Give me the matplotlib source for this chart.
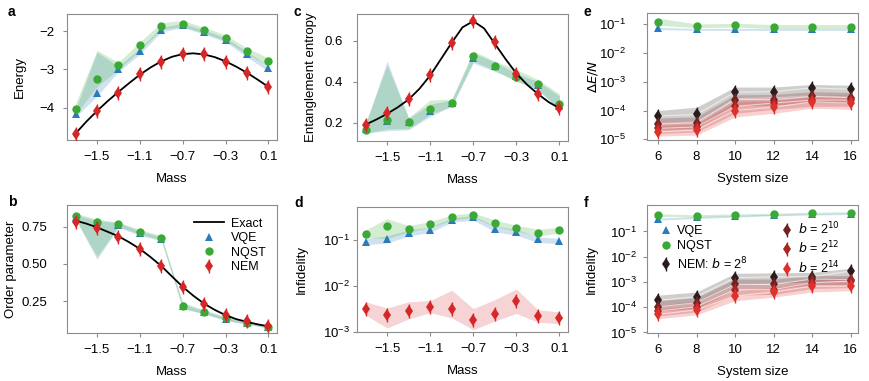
import numpy as np
import matplotlib.pyplot as plt
from matplotlib.ticker import NullLocator
from matplotlib.lines import Line2D

plt.rcParams['font.family'] = ['Liberation Sans', 'DejaVu Sans']
plt.rcParams['font.size'] = 9

# ---- data ----
mass = [-1.7, -1.5, -1.3, -1.1, -0.9, -0.7, -0.5, -0.3, -0.1, 0.1]
mass_fine = [-1.7, -1.6, -1.5, -1.4, -1.3, -1.2, -1.1, -1.0, -0.9, -0.8,
             -0.7, -0.6, -0.5, -0.4, -0.3, -0.2, -0.1, 0.0, 0.1]
sizes = [6, 8, 10, 12, 14, 16]

# a: energy
en_exact = [-4.68, -4.37, -4.09, -3.83, -3.59, -3.36, -3.14, -2.95, -2.79, -2.67,
            -2.60, -2.58, -2.61, -2.68, -2.79, -2.93, -3.09, -3.27, -3.46]
en_vqe = [-4.17, -3.61, -3.00, -2.52, -1.96, -1.84, -2.02, -2.22, -2.60, -2.97]
en_vqe_lo = [-4.25, -3.70, -3.06, -2.60, -2.02, -1.90, -2.08, -2.28, -2.68, -3.05]
en_vqe_hi = [-4.05, -2.55, -2.92, -2.45, -1.90, -1.80, -1.97, -2.17, -2.54, -2.90]
en_nqst = [-4.04, -3.26, -2.89, -2.35, -1.87, -1.80, -1.97, -2.17, -2.51, -2.77]
en_nqst_lo = [-4.18, -3.45, -3.00, -2.50, -1.95, -1.88, -2.05, -2.25, -2.60, -2.90]
en_nqst_hi = [-3.90, -2.50, -2.82, -2.28, -1.78, -1.72, -1.90, -2.10, -2.44, -2.70]
en_nem = [-4.69, -4.10, -3.61, -3.13, -2.80, -2.60, -2.61, -2.80, -3.09, -3.47]

# b: order parameter
op_exact = [0.79, 0.77, 0.745, 0.715, 0.685, 0.645, 0.60, 0.545, 0.485, 0.415,
            0.345, 0.285, 0.232, 0.19, 0.155, 0.128, 0.11, 0.093, 0.08]
op_vqe = [0.815, 0.78, 0.76, 0.705, 0.668, 0.215, 0.175, 0.13, 0.10, 0.075]
op_vqe_lo = [0.80, 0.53, 0.745, 0.69, 0.655, 0.20, 0.163, 0.12, 0.092, 0.068]
op_vqe_hi = [0.83, 0.79, 0.775, 0.72, 0.68, 0.23, 0.185, 0.14, 0.107, 0.082]
op_nqst = [0.822, 0.784, 0.766, 0.716, 0.672, 0.219, 0.178, 0.133, 0.104, 0.077]
op_nqst_lo = [0.80, 0.55, 0.75, 0.70, 0.66, 0.20, 0.165, 0.12, 0.095, 0.07]
op_nqst_hi = [0.84, 0.80, 0.78, 0.73, 0.69, 0.24, 0.19, 0.145, 0.112, 0.085]
op_nem = [0.784, 0.739, 0.683, 0.60, 0.482, 0.343, 0.231, 0.157, 0.118, 0.082]

# c: entanglement entropy
ee_exact = [0.19, 0.215, 0.243, 0.275, 0.313, 0.365, 0.43, 0.51, 0.59, 0.665,
            0.695, 0.66, 0.585, 0.51, 0.44, 0.385, 0.34, 0.30, 0.27]
ee_vqe = [0.17, 0.21, 0.205, 0.258, 0.297, 0.515, 0.475, 0.425, 0.385, 0.28]
ee_vqe_lo = [0.15, 0.16, 0.165, 0.23, 0.28, 0.49, 0.45, 0.405, 0.36, 0.26]
ee_vqe_hi = [0.19, 0.50, 0.22, 0.29, 0.31, 0.54, 0.495, 0.44, 0.40, 0.33]
ee_nqst = [0.165, 0.213, 0.205, 0.268, 0.297, 0.523, 0.477, 0.423, 0.389, 0.289]
ee_nqst_lo = [0.145, 0.17, 0.17, 0.24, 0.28, 0.50, 0.455, 0.40, 0.365, 0.265]
ee_nqst_hi = [0.20, 0.48, 0.225, 0.31, 0.315, 0.55, 0.50, 0.46, 0.41, 0.34]
ee_nem = [0.187, 0.245, 0.313, 0.434, 0.590, 0.697, 0.592, 0.439, 0.340, 0.272]

# d: infidelity vs mass
inf_vqe = [0.093, 0.105, 0.148, 0.17, 0.283, 0.318, 0.18, 0.153, 0.105, 0.097]
inf_vqe_lo = [0.08, 0.088, 0.125, 0.15, 0.25, 0.28, 0.155, 0.13, 0.09, 0.085]
inf_vqe_hi = [0.11, 0.125, 0.17, 0.195, 0.31, 0.35, 0.205, 0.175, 0.12, 0.11]
inf_nqst = [0.141, 0.208, 0.18, 0.227, 0.318, 0.36, 0.239, 0.185, 0.148, 0.17]
inf_nqst_lo = [0.115, 0.11, 0.155, 0.19, 0.28, 0.32, 0.2, 0.16, 0.125, 0.145]
inf_nqst_hi = [0.17, 0.30, 0.21, 0.26, 0.36, 0.40, 0.28, 0.215, 0.175, 0.195]
inf_nem = [3.19e-3, 2.27e-3, 2.78e-3, 3.47e-3, 3.19e-3, 1.76e-3, 2.47e-3, 4.72e-3, 2.15e-3, 2.0e-3]
inf_nem_lo = [2.3e-3, 1.2e-3, 1.9e-3, 2.6e-3, 2.0e-3, 1.1e-3, 1.7e-3, 2.5e-3, 1.6e-3, 1.5e-3]
inf_nem_hi = [4.5e-3, 3.3e-3, 4.5e-3, 4.8e-3, 8.1e-3, 3.2e-3, 5.0e-3, 8.6e-3, 3.0e-3, 2.7e-3]

# e: energy error per site vs system size
de_vqe = [0.07, 0.065, 0.065, 0.065, 0.065, 0.065]
de_vqe_lo = [0.064, 0.06, 0.06, 0.06, 0.06, 0.06]
de_vqe_hi = [0.076, 0.07, 0.07, 0.07, 0.07, 0.07]
de_nqst = [0.115, 0.085, 0.09, 0.08, 0.08, 0.08]
de_nqst_lo = [0.09, 0.075, 0.078, 0.07, 0.07, 0.07]
de_nqst_hi = [0.16, 0.1, 0.105, 0.095, 0.095, 0.095]
de_nem = [[6.4e-5, 7.3e-5, 4.3e-4, 4.5e-4, 6.1e-4, 5.4e-4],
          [3.4e-5, 3.8e-5, 2.4e-4, 2.4e-4, 3.1e-4, 2.8e-4],
          [2.4e-5, 2.7e-5, 1.4e-4, 1.8e-4, 2.3e-4, 2.3e-4],
          [1.8e-5, 2.1e-5, 1.0e-4, 1.3e-4, 2.0e-4, 1.8e-4]]
de_nem_lo = [[4.0e-5, 4.5e-5, 2.8e-4, 3.0e-4, 3.5e-4, 3.2e-4],
             [2.2e-5, 2.4e-5, 1.5e-4, 1.5e-4, 2.0e-4, 1.8e-4],
             [1.6e-5, 1.8e-5, 8.0e-5, 1.1e-4, 1.4e-4, 1.4e-4],
             [1.3e-5, 1.4e-5, 6.0e-5, 8.0e-5, 1.2e-4, 1.1e-4]]
de_nem_hi = [[1.0e-4, 1.3e-4, 6.5e-4, 6.5e-4, 8.0e-4, 7.5e-4],
             [5.5e-5, 6.0e-5, 3.5e-4, 3.6e-4, 4.5e-4, 4.2e-4],
             [4.0e-5, 4.5e-5, 2.6e-4, 2.8e-4, 3.5e-4, 3.4e-4],
             [3.0e-5, 3.4e-5, 2.0e-4, 2.2e-4, 3.0e-4, 2.8e-4]]

# f: infidelity vs system size
fi_vqe = [0.31, 0.36, 0.40, 0.45, 0.48, 0.50]
fi_vqe_lo = [0.28, 0.33, 0.37, 0.42, 0.45, 0.47]
fi_vqe_hi = [0.34, 0.39, 0.43, 0.48, 0.51, 0.53]
fi_nqst = [0.45, 0.41, 0.45, 0.48, 0.53, 0.56]
fi_nqst_lo = [0.40, 0.37, 0.41, 0.44, 0.49, 0.52]
fi_nqst_hi = [0.50, 0.46, 0.50, 0.53, 0.58, 0.61]
fi_nem = [[1.87e-4, 2.6e-4, 1.46e-3, 1.6e-3, 1.6e-3, 2.7e-3],
          [1.05e-4, 1.5e-4, 8.0e-4, 8.0e-4, 1.3e-3, 1.25e-3],
          [7.0e-5, 1.05e-4, 5.0e-4, 5.0e-4, 9.3e-4, 1.08e-3],
          [5.2e-5, 7.8e-5, 2.8e-4, 4.0e-4, 6.8e-4, 6.8e-4]]
fi_nem_lo = [[1.1e-4, 1.5e-4, 8.0e-4, 9.0e-4, 1.0e-3, 1.2e-3],
             [7.0e-5, 9.0e-5, 5.0e-4, 5.0e-4, 8.0e-4, 8.0e-4],
             [4.5e-5, 6.5e-5, 3.0e-4, 3.2e-4, 5.5e-4, 6.0e-4],
             [3.5e-5, 5.0e-5, 1.8e-4, 2.5e-4, 4.0e-4, 4.5e-4]]
fi_nem_hi = [[3.0e-4, 4.0e-4, 2.2e-3, 2.3e-3, 2.4e-3, 3.5e-3],
             [1.8e-4, 2.4e-4, 1.3e-3, 1.3e-3, 1.8e-3, 1.8e-3],
             [1.2e-4, 1.7e-4, 8.0e-4, 8.0e-4, 1.4e-3, 1.5e-3],
             [8.5e-5, 1.2e-4, 4.5e-4, 6.0e-4, 1.0e-3, 1.0e-3]]

nem_labels = ['NEM: $b$ = 2$^{8}$', '$b$ = 2$^{10}$', '$b$ = 2$^{12}$', '$b$ = 2$^{14}$']

# ---- style ----
c_vqe = '#2b7bba'
c_nqst = '#3aa935'
c_nem = '#d62728'
c_nem_b = ['#2a1c1c', '#6e2222', '#a82626', '#e0302a']
gray = '#8c8c8c'
fs = 9.5


def style(ax, ylabel, xlabel, ypad, ylab_x):
    for s in ax.spines.values():
        s.set_color(gray)
        s.set_linewidth(0.8)
    ax.tick_params(color=gray, length=3, width=0.8, labelsize=fs)
    ax.tick_params(axis='x', pad=5)
    ax.tick_params(axis='y', pad=ypad)
    ax.set_ylabel(ylabel, fontsize=fs)
    ax.set_xlabel(xlabel, fontsize=fs, labelpad=7)
    ax.yaxis.set_label_coords(ylab_x, 0.5)


def diamond(ax, x, y, color, ms=6, z=5):
    ax.plot(x, y, 'd', color=color, ms=ms, mew=0, zorder=z)
    ax.plot(x, y, '|', color=color, ms=ms * 1.6, mew=1.0, zorder=z)


def vqe_nqst(ax, x, v, vlo, vhi, n, nlo, nhi):
    ax.fill_between(x, vlo, vhi, color=c_vqe, alpha=0.22, lw=0, zorder=1)
    ax.fill_between(x, nlo, nhi, color=c_nqst, alpha=0.22, lw=0, zorder=1)
    ax.plot(x, v, '^', color=c_vqe, ms=5.5, mew=0, zorder=3)
    ax.plot(x, n, 'o', color=c_nqst, ms=6, mew=0, zorder=4)


def mass_axis(ax):
    ax.set_xlim(-1.78, 0.18)
    ax.set_xticks([-1.5, -1.1, -0.7, -0.3, 0.1])
    ax.set_xticklabels(['\u22121.5', '\u22121.1', '\u22120.7', '\u22120.3', '0.1'])


def size_axis(ax):
    ax.set_xlim(5.43, 16.38)
    ax.set_xticks(sizes)
    ax.set_yscale('log')
    ax.yaxis.set_minor_locator(NullLocator())


fig = plt.figure(figsize=(8.69, 3.81), dpi=100)
W, H = 869, 381


def axes_px(l, t, r, b):
    return fig.add_axes([l / W, 1 - b / H, (r - l) / W, (b - t) / H])


ax_a = axes_px(67, 14, 277, 140)
ax_c = axes_px(357, 14, 568, 141)
ax_e = axes_px(647, 13, 858, 140)
ax_b = axes_px(67, 205, 277, 333)
ax_d = axes_px(357, 207, 568, 332)
ax_f = axes_px(647, 205, 858, 333)

# a
vqe_nqst(ax_a, mass, en_vqe, en_vqe_lo, en_vqe_hi, en_nqst, en_nqst_lo, en_nqst_hi)
ax_a.plot(mass_fine, en_exact, color='k', lw=1.3, zorder=4)
diamond(ax_a, mass, en_nem, c_nem)
mass_axis(ax_a)
ax_a.set_ylim(-4.85, -1.55)
ax_a.set_yticks([-4, -3, -2])
ax_a.set_yticklabels(['\u22124', '\u22123', '\u22122'])
style(ax_a, 'Energy', 'Mass', 6, -0.195)

# b
vqe_nqst(ax_b, mass, op_vqe, op_vqe_lo, op_vqe_hi, op_nqst, op_nqst_lo, op_nqst_hi)
ax_b.plot(mass_fine, op_exact, color='k', lw=1.3, zorder=4)
diamond(ax_b, mass, op_nem, c_nem)
mass_axis(ax_b)
ax_b.set_ylim(0.035, 0.895)
ax_b.set_yticks([0.25, 0.5, 0.75])
ax_b.set_yticklabels(['0.25', '0.50', '0.75'])
style(ax_b, 'Order parameter', 'Mass', 11, -0.238)
h_b = [Line2D([], [], color='k', lw=1.3),
       Line2D([], [], marker='^', ls='', color=c_vqe, ms=5.5, mew=0),
       Line2D([], [], marker='o', ls='', color=c_nqst, ms=6, mew=0),
       (Line2D([], [], marker='d', ls='', color=c_nem, ms=6, mew=0),
        Line2D([], [], marker='|', ls='', color=c_nem, ms=9.6, mew=1.0))]
ax_b.legend(h_b, ['Exact', 'VQE', 'NQST', 'NEM'], loc='upper right',
            bbox_to_anchor=(1.0, 0.99), frameon=False, fontsize=9,
            handlelength=2.4, labelspacing=0.2, handletextpad=0.6)

# c
vqe_nqst(ax_c, mass, ee_vqe, ee_vqe_lo, ee_vqe_hi, ee_nqst, ee_nqst_lo, ee_nqst_hi)
ax_c.plot(mass_fine, ee_exact, color='k', lw=1.3, zorder=4)
diamond(ax_c, mass, ee_nem, c_nem)
mass_axis(ax_c)
ax_c.set_ylim(0.11, 0.73)
ax_c.set_yticks([0.2, 0.4, 0.6])
style(ax_c, 'Entanglement entropy', 'Mass', 7, -0.19)

# d
vqe_nqst(ax_d, mass, inf_vqe, inf_vqe_lo, inf_vqe_hi, inf_nqst, inf_nqst_lo, inf_nqst_hi)
ax_d.fill_between(mass, inf_nem_lo, inf_nem_hi, color=c_nem, alpha=0.2, lw=0, zorder=1)
diamond(ax_d, mass, inf_nem, c_nem)
mass_axis(ax_d)
ax_d.set_yscale('log')
ax_d.set_ylim(0.98e-3, 0.54)
ax_d.set_yticks([1e-3, 1e-2, 1e-1])
ax_d.yaxis.set_minor_locator(NullLocator())
style(ax_d, 'Infidelity', 'Mass', 2, -0.232)

# e
vqe_nqst(ax_e, sizes, de_vqe, de_vqe_lo, de_vqe_hi, de_nqst, de_nqst_lo, de_nqst_hi)
for k in range(4):
    ax_e.fill_between(sizes, de_nem_lo[k], de_nem_hi[k], color=c_nem_b[k], alpha=0.22, lw=0, zorder=1)
    ax_e.plot(sizes, de_nem[k], color='white', lw=0.8, alpha=0.6, zorder=2)
for k in range(4):
    diamond(ax_e, sizes, de_nem[k], c_nem_b[k], z=5 + k)
size_axis(ax_e)
ax_e.set_ylim(0.95e-5, 0.24)
ax_e.set_yticks([1e-5, 1e-4, 1e-3, 1e-2, 1e-1])
style(ax_e, '$\\Delta E/N$', 'System size', 12, -0.223)

# f
vqe_nqst(ax_f, sizes, fi_vqe, fi_vqe_lo, fi_vqe_hi, fi_nqst, fi_nqst_lo, fi_nqst_hi)
for k in range(4):
    ax_f.fill_between(sizes, fi_nem_lo[k], fi_nem_hi[k], color=c_nem_b[k], alpha=0.22, lw=0, zorder=1)
    ax_f.plot(sizes, fi_nem[k], color='white', lw=0.8, alpha=0.6, zorder=2)
for k in range(4):
    diamond(ax_f, sizes, fi_nem[k], c_nem_b[k], z=5 + k)
size_axis(ax_f)
ax_f.set_ylim(0.95e-5, 1.12)
ax_f.set_yticks([1e-5, 1e-4, 1e-3, 1e-2, 1e-1])
style(ax_f, 'Infidelity', 'System size', 4, -0.232)

h_f = [Line2D([], [], marker='^', ls='', color=c_vqe, ms=5.5, mew=0),
       Line2D([], [], marker='o', ls='', color=c_nqst, ms=6, mew=0)]
for k in range(4):
    h_f.append((Line2D([], [], marker='d', ls='', color=c_nem_b[k], ms=6, mew=0),
                Line2D([], [], marker='|', ls='', color=c_nem_b[k], ms=9.6, mew=1.0)))
ax_f.legend(h_f, ['VQE', 'NQST'] + nem_labels,
            ncol=2, loc='upper left', bbox_to_anchor=(0.06, 0.88), borderaxespad=0,
            borderpad=0, frameon=False, fontsize=9, handlelength=1.0,
            labelspacing=0.25, handletextpad=0.4, columnspacing=2.6)

# panel letters
for txt, x, y in [('a', 8, 12), ('c', 294, 12), ('e', 584, 12),
                  ('b', 8, 202), ('d', 294, 203), ('f', 584, 203)]:
    fig.text(x / W, 1 - y / H, txt, fontsize=10, fontweight='bold', va='center')

fig.savefig('out.png', dpi=100)
